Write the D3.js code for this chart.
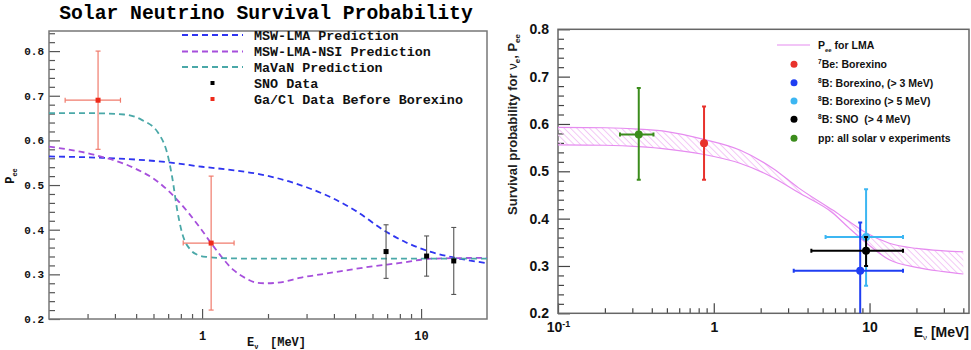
<!DOCTYPE html>
<html>
<head>
<meta charset="utf-8">
<script src="https://cdn.jsdelivr.net/npm/d3@7"></script>
<style>
  body { margin: 0; background: #fff; }
  svg { display: block; }
</style>
</head>
<body>
<div id="viz"></div>
<script>
// ---------- left panel data ----------
let lmaE   = [0.2, 0.35, 0.5, 0.7, 1.0, 1.4, 1.84, 2.5, 3.0, 3.93, 5.0, 6.9, 8.5, 10.8, 14, 20];
let lmaP   = [0.564, 0.561, 0.557, 0.551, 0.541, 0.533, 0.524, 0.508, 0.495, 0.471, 0.443, 0.396, 0.372, 0.352, 0.338, 0.325];
let nsiE   = [0.2, 0.32, 0.49, 0.63, 0.77, 0.98, 1.13, 1.39, 1.6, 1.78, 1.97, 2.4, 2.78, 3.5, 4.7, 6, 7.9, 11.1, 20];
let nsiP   = [0.586, 0.568, 0.538, 0.507, 0.467, 0.404, 0.362, 0.31, 0.29, 0.281, 0.28, 0.284, 0.292, 0.3, 0.31, 0.318, 0.325, 0.335, 0.337];
let mavanE = [0.2, 0.3, 0.44, 0.53, 0.63, 0.7, 0.73, 0.77, 0.81, 0.885, 0.95, 1.05, 1.3, 2, 5, 20];
let mavanP = [0.661, 0.661, 0.658, 0.646, 0.617, 0.563, 0.518, 0.444, 0.393, 0.355, 0.344, 0.339, 0.336, 0.335, 0.335, 0.335];

let snoE   = [6.92, 10.6, 14.1];
let snoP   = [0.351, 0.341, 0.33];
let snoErr = [0.06, 0.045, 0.075];

let gaE    = [0.335, 1.10];
let gaElo  = [0.237, 0.82];
let gaEhi  = [0.424, 1.40];
let gaP    = [0.69, 0.37];
let gaErr  = [0.11, 0.15];

let leftLegend = ["MSW-LMA Prediction", "MSW-LMA-NSI Prediction", "MaVaN Prediction", "SNO Data", "Ga/Cl Data Before Borexino"];
let leftYTicks = [0.2, 0.3, 0.4, 0.5, 0.6, 0.7, 0.8];

// ---------- right panel data ----------
let bandE  = [0.1, 0.2, 0.33, 0.5, 0.85, 1.47, 2.4, 3.5, 5.8, 7.4, 9.5, 13.4, 20, 30, 40];
let bandHi = [0.593, 0.592, 0.589, 0.584, 0.568, 0.545, 0.506, 0.465, 0.418, 0.394, 0.37, 0.348, 0.337, 0.332, 0.33];
let bandLo = [0.556, 0.555, 0.552, 0.547, 0.536, 0.517, 0.487, 0.455, 0.412, 0.38, 0.349, 0.313, 0.297, 0.288, 0.283];

let expE    = [0.866, 8.71, 9.5, 9.5, 0.33];
let expElo  = [null, 3.26, 5.22, 4.23, 0.25];
let expEhi  = [null, 16.4, 16.4, 16.4, 0.41];
let expP    = [0.559, 0.29, 0.361, 0.332, 0.578];
let expPlo  = [0.482, 0.19, 0.258, 0.30, 0.482];
let expPhi  = [0.637, 0.392, 0.462, 0.361, 0.676];
let expColor = ["#e8322c", "#1f3ef2", "#3cb6f2", "#000000", "#3b8c1c"];
let drawOrder = [0, 4, 2, 1, 3];

let rightYTicks = [0.2, 0.3, 0.4, 0.5, 0.6, 0.7, 0.8];

let W = 971, H = 350;
let mono = "'Liberation Mono', 'Courier New', monospace";
let sans = "'Liberation Sans', Arial, Helvetica, sans-serif";

let svg = d3.select("#viz").append("svg").attr("width", W).attr("height", H);
let defs = svg.append("defs");

function minorYTicks(lo, hi) {
  let out = [];
  for (let i = Math.round(lo * 50); i <= Math.round(hi * 50); i++) {
    if (i % 5 != 0) out.push(i / 50);
  }
  return out;
}
function logMinors(lo, hi) {
  let out = [];
  for (let dec = -2; dec <= 2; dec++) {
    for (let k = 2; k <= 9; k++) {
      let v = k * Math.pow(10, dec);
      if (v > lo * 1.001 && v < hi * 0.999) out.push(v);
    }
  }
  return out;
}
function styleAxis(g, col) {
  g.select(".domain").remove();
  g.selectAll("line").attr("stroke", col).attr("stroke-width", 1.2);
}

// =============== LEFT PANEL ===============
let xL = d3.scaleLog().domain([0.2, 20]).range([49, 487]);
let yL = d3.scaleLinear().domain([0.2, 0.845]).range([319, 31]);

svg.append("text")
  .attr("x", 266).attr("y", 18.5)
  .attr("text-anchor", "middle")
  .attr("font-family", mono).attr("font-weight", "bold").attr("font-size", "19.7px")
  .text("Solar Neutrino Survival Probability");

defs.append("clipPath").attr("id", "clipL").append("rect")
  .attr("x", 49).attr("y", 31).attr("width", 438).attr("height", 288);

// axes
let yLMajor = svg.append("g").attr("transform", "translate(49,0)")
  .call(d3.axisLeft(yL).tickValues(leftYTicks).tickSize(-11).tickPadding(5).tickFormat(d3.format(".1f")));
styleAxis(yLMajor, "#555");
yLMajor.selectAll("text").attr("font-family", mono).attr("font-weight", "bold").attr("font-size", "11px").attr("fill", "#111");
let yLMinor = svg.append("g").attr("transform", "translate(49,0)")
  .call(d3.axisLeft(yL).tickValues(minorYTicks(0.2, 0.84)).tickSize(-6).tickFormat(""));
styleAxis(yLMinor, "#555");

let xLMajor = svg.append("g").attr("transform", "translate(0,319)")
  .call(d3.axisBottom(xL).tickValues([1, 10]).tickSize(-10).tickPadding(12).tickFormat(d3.format("d")));
styleAxis(xLMajor, "#555");
xLMajor.selectAll("text").attr("font-family", mono).attr("font-weight", "bold").attr("font-size", "12px").attr("fill", "#111");
let xLMinor = svg.append("g").attr("transform", "translate(0,319)")
  .call(d3.axisBottom(xL).tickValues(logMinors(0.2, 20)).tickSize(-5).tickFormat(""));
styleAxis(xLMinor, "#555");

// frame
svg.append("rect").attr("x", 49).attr("y", 31).attr("width", 438).attr("height", 288)
  .attr("fill", "none").attr("stroke", "#777").attr("stroke-width", 1.5);

// axis titles
let xLab = svg.append("text").attr("x", 247).attr("y", 346)
  .attr("font-family", mono).attr("font-weight", "bold").attr("font-size", "12px").attr("fill", "#111");
xLab.append("tspan").text("E");
xLab.append("tspan").attr("dy", 3).attr("font-size", "7px").text("ν");
xLab.append("tspan").attr("x", 270).attr("dy", -3).text("[MeV]");

let yLab = svg.append("text").attr("transform", "translate(14,176) rotate(-90)")
  .attr("text-anchor", "middle")
  .attr("font-family", mono).attr("font-weight", "bold").attr("font-size", "12px").attr("fill", "#111");
yLab.append("tspan").text("P");
yLab.append("tspan").attr("dy", 3).attr("font-size", "7px").text("ee");

// curves
let lineL = d3.line().x(d => xL(d[0])).y(d => yL(d[1])).curve(d3.curveMonotoneX);
let curvesL = [
  { e: lmaE, p: lmaP, color: "#2f35f0" },
  { e: nsiE, p: nsiP, color: "#a64fdc" },
  { e: mavanE, p: mavanP, color: "#4aa8a8" }
];
let plotL = svg.append("g").attr("clip-path", "url(#clipL)");
curvesL.forEach(c => {
  plotL.append("path")
    .attr("d", lineL(d3.zip(c.e, c.p)))
    .attr("fill", "none").attr("stroke", c.color).attr("stroke-width", 1.8)
    .attr("stroke-dasharray", "6,4");
});

// Ga/Cl points
let errRed = "#f07b6c";
gaE.forEach((e, i) => {
  let g = plotL.append("g");
  let cx = xL(e), cy = yL(gaP[i]);
  let x0 = xL(gaElo[i]), x1 = xL(gaEhi[i]);
  let y0 = yL(gaP[i] - gaErr[i]), y1 = yL(gaP[i] + gaErr[i]);
  g.append("line").attr("x1", x0).attr("x2", x1).attr("y1", cy).attr("y2", cy);
  g.append("line").attr("x1", cx).attr("x2", cx).attr("y1", y0).attr("y2", y1);
  g.append("line").attr("x1", x0).attr("x2", x0).attr("y1", cy - 2.5).attr("y2", cy + 2.5);
  g.append("line").attr("x1", x1).attr("x2", x1).attr("y1", cy - 2.5).attr("y2", cy + 2.5);
  g.append("line").attr("x1", cx - 2.5).attr("x2", cx + 2.5).attr("y1", y0).attr("y2", y0);
  g.append("line").attr("x1", cx - 2.5).attr("x2", cx + 2.5).attr("y1", y1).attr("y2", y1);
  g.selectAll("line").attr("stroke", errRed).attr("stroke-width", 1.2);
  g.append("rect").attr("x", cx - 2.5).attr("y", cy - 2.5).attr("width", 5).attr("height", 5).attr("fill", "#ee2a1a");
});

// SNO points
snoE.forEach((e, i) => {
  let g = plotL.append("g");
  let cx = xL(e), cy = yL(snoP[i]);
  let y0 = yL(snoP[i] - snoErr[i]), y1 = yL(snoP[i] + snoErr[i]);
  g.append("line").attr("x1", cx).attr("x2", cx).attr("y1", y0).attr("y2", y1);
  g.append("line").attr("x1", cx - 2.5).attr("x2", cx + 2.5).attr("y1", y0).attr("y2", y0);
  g.append("line").attr("x1", cx - 2.5).attr("x2", cx + 2.5).attr("y1", y1).attr("y2", y1);
  g.selectAll("line").attr("stroke", "#555").attr("stroke-width", 1.1);
  g.append("rect").attr("x", cx - 2.5).attr("y", cy - 2.5).attr("width", 5).attr("height", 5).attr("fill", "#000");
});

// left legend
let legL = svg.append("g");
let legRowsL = [35, 51.5, 67, 83, 99];
leftLegend.forEach((label, i) => {
  let y = legRowsL[i];
  if (i < 3) {
    legL.append("line").attr("x1", 182).attr("x2", 243).attr("y1", y).attr("y2", y)
      .attr("stroke", curvesL[i].color).attr("stroke-width", 1.8).attr("stroke-dasharray", "6,4");
  } else {
    legL.append("rect").attr("x", 210.5).attr("y", y - 2).attr("width", 4).attr("height", 4)
      .attr("fill", i == 3 ? "#000" : "#ee2a1a");
  }
  legL.append("text").attr("x", 254).attr("y", y + 4.5)
    .attr("font-family", mono).attr("font-weight", "bold").attr("font-size", "13.4px").attr("fill", "#111")
    .text(label);
});

// =============== RIGHT PANEL ===============
let xR = d3.scaleLog().domain([0.1, 43.5]).range([558, 969]);
let yR = d3.scaleLinear().domain([0.2, 0.8]).range([313.3, 29.3]);

defs.append("clipPath").attr("id", "clipR").append("rect")
  .attr("x", 558).attr("y", 29.3).attr("width", 411).attr("height", 284);

// light diagonal hatching for the LMA band
let hatch = defs.append("pattern").attr("id", "hatch")
  .attr("patternUnits", "userSpaceOnUse").attr("width", 4.5).attr("height", 4.5)
  .attr("patternTransform", "rotate(45)");
hatch.append("line").attr("x1", 0).attr("x2", 4.5).attr("y1", 2.25).attr("y2", 2.25)
  .attr("stroke", "#f2c6f5").attr("stroke-width", 1);

let yRMajor = svg.append("g").attr("transform", "translate(558,0)")
  .call(d3.axisLeft(yR).tickValues(rightYTicks).tickSize(-12).tickPadding(9).tickFormat(d3.format(".1f")));
styleAxis(yRMajor, "#444");
yRMajor.selectAll("text").attr("font-family", sans).attr("font-weight", "bold").attr("font-size", "14px").attr("fill", "#111");
let yRMinor = svg.append("g").attr("transform", "translate(558,0)")
  .call(d3.axisLeft(yR).tickValues(minorYTicks(0.2, 0.8)).tickSize(-6).tickFormat(""));
styleAxis(yRMinor, "#444");

let xRMajor = svg.append("g").attr("transform", "translate(0,313.3)")
  .call(d3.axisBottom(xR).tickValues([0.1, 1, 10]).tickSize(-10).tickPadding(8).tickFormat(""));
styleAxis(xRMajor, "#444");
xRMajor.selectAll(".tick").each(function(d) {
  let t = d3.select(this).append("text").attr("y", 18.5)
    .attr("text-anchor", "middle")
    .attr("font-family", sans).attr("font-weight", "bold").attr("font-size", "14px").attr("fill", "#111");
  if (d == 0.1) {
    t.append("tspan").text("10");
    t.append("tspan").attr("dy", -5).attr("font-size", "9px").text("-1");
  } else {
    t.text(d3.format("d")(d));
  }
});
let xRMinor = svg.append("g").attr("transform", "translate(0,313.3)")
  .call(d3.axisBottom(xR).tickValues(logMinors(0.1, 43.5)).tickSize(-5).tickFormat(""));
styleAxis(xRMinor, "#444");

svg.append("rect").attr("x", 558).attr("y", 29.3).attr("width", 411).attr("height", 284)
  .attr("fill", "none").attr("stroke", "#666").attr("stroke-width", 1.5);

// axis titles
let xRLab = svg.append("text").attr("x", 969).attr("y", 337).attr("text-anchor", "end")
  .attr("font-family", sans).attr("font-weight", "bold").attr("font-size", "14px").attr("fill", "#111");
xRLab.append("tspan").text("E");
xRLab.append("tspan").attr("dy", 3).attr("font-size", "8px").attr("font-weight", "normal").text("ν");
xRLab.append("tspan").attr("dy", -3).text(" [MeV]");

let yRLab = svg.append("text").attr("transform", "translate(517,34) rotate(-90)")
  .attr("text-anchor", "end")
  .attr("font-family", sans).attr("font-weight", "bold").attr("font-size", "13px").attr("fill", "#222");
yRLab.append("tspan").text("Survival probability for ");
yRLab.append("tspan").attr("font-weight", "normal").text("ν");
yRLab.append("tspan").attr("dy", 3).attr("font-size", "8px").text("e");
yRLab.append("tspan").attr("dy", -3).text(", P");
yRLab.append("tspan").attr("dy", 3).attr("font-size", "8px").text("ee");

// LMA band
let plotR = svg.append("g").attr("clip-path", "url(#clipR)");
let bandData = bandE.map((e, i) => ({ e: e, hi: bandHi[i], lo: bandLo[i] }));
let area = d3.area().x(d => xR(d.e)).y0(d => yR(d.lo)).y1(d => yR(d.hi)).curve(d3.curveMonotoneX);
plotR.append("path").attr("d", area(bandData)).attr("fill", "url(#hatch)");
let lineHi = d3.line().x(d => xR(d.e)).y(d => yR(d.hi)).curve(d3.curveMonotoneX);
let lineLo = d3.line().x(d => xR(d.e)).y(d => yR(d.lo)).curve(d3.curveMonotoneX);
plotR.append("path").attr("d", lineHi(bandData)).attr("fill", "none").attr("stroke", "#e68cf0").attr("stroke-width", 1.2);
plotR.append("path").attr("d", lineLo(bandData)).attr("fill", "none").attr("stroke", "#e68cf0").attr("stroke-width", 1.2);

// measurements
drawOrder.forEach(i => {
  let g = plotR.append("g");
  let col = expColor[i];
  let cx = xR(expE[i]), cy = yR(expP[i]);
  let y0 = yR(expPlo[i]), y1 = yR(expPhi[i]);
  g.append("line").attr("x1", cx).attr("x2", cx).attr("y1", y0).attr("y2", y1);
  g.append("line").attr("x1", cx - 2).attr("x2", cx + 2).attr("y1", y0).attr("y2", y0);
  g.append("line").attr("x1", cx - 2).attr("x2", cx + 2).attr("y1", y1).attr("y2", y1);
  if (expElo[i] != null) {
    let x0 = xR(expElo[i]), x1 = xR(expEhi[i]);
    g.append("line").attr("x1", x0).attr("x2", x1).attr("y1", cy).attr("y2", cy);
    g.append("line").attr("x1", x0).attr("x2", x0).attr("y1", cy - 2).attr("y2", cy + 2);
    g.append("line").attr("x1", x1).attr("x2", x1).attr("y1", cy - 2).attr("y2", cy + 2);
  }
  g.selectAll("line").attr("stroke", col).attr("stroke-width", 2);
  g.append("circle").attr("cx", cx).attr("cy", cy).attr("r", 4).attr("fill", col);
});

// right legend
let legR = svg.append("g");
let legRowsR = [45, 64.3, 82.7, 101, 119.3, 138.3];
legR.append("line").attr("x1", 777).attr("x2", 810).attr("y1", legRowsR[0]).attr("y2", legRowsR[0])
  .attr("stroke", "#e68cf0").attr("stroke-width", 1.2);
function legText(y) {
  return legR.append("text").attr("x", 818).attr("y", y + 4)
    .attr("font-family", sans).attr("font-weight", "bold").attr("font-size", "10.5px").attr("fill", "#111");
}
let t0 = legText(legRowsR[0]);
t0.append("tspan").text("P");
t0.append("tspan").attr("dy", 2.5).attr("font-size", "6px").text("ee");
t0.append("tspan").attr("dy", -2.5).text(" for LMA");

let legLabelsR = [
  ["7", "Be: Borexino"],
  ["8", "B: Borexino, (> 3 MeV)"],
  ["8", "B: Borexino (> 5 MeV)"],
  ["8", "B: SNO  (> 4 MeV)"],
  [null, "pp: all solar ν experiments"]
];
legLabelsR.forEach((lab, k) => {
  let y = legRowsR[k + 1];
  legR.append("circle").attr("cx", 794).attr("cy", y).attr("r", 3.5).attr("fill", expColor[k]);
  let t = legText(y).style("white-space", "pre");
  if (lab[0]) {
    t.append("tspan").attr("dy", -4).attr("font-size", "6.5px").text(lab[0]);
    t.append("tspan").attr("dy", 4).text(lab[1]);
  } else {
    t.text(lab[1]);
  }
});
</script>
</body>
</html>
